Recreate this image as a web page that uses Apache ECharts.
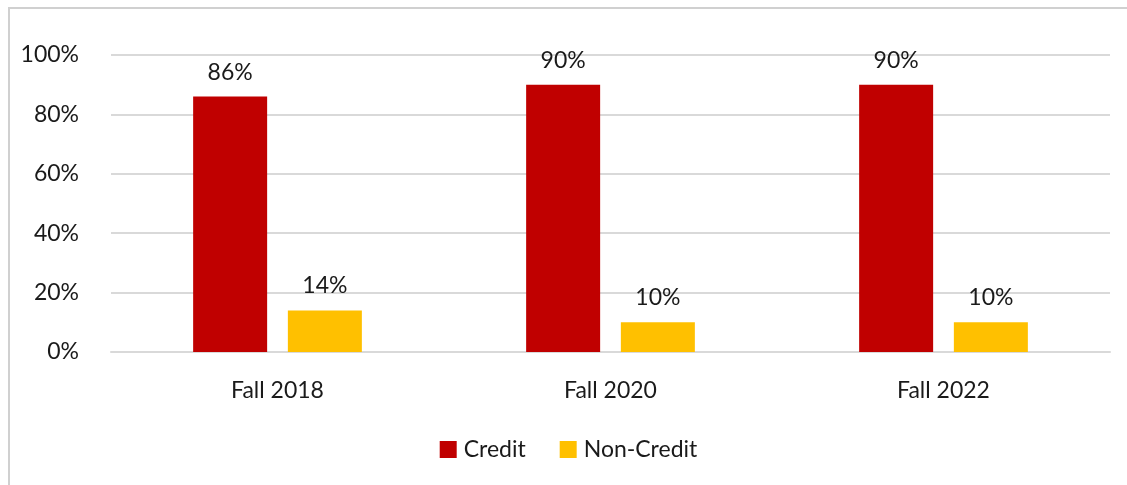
<!DOCTYPE html>
<html>
<head>
<meta charset="utf-8">
<script src="https://cdn.jsdelivr.net/npm/echarts@6/dist/echarts.min.js"></script>
<style>
  html, body { margin: 0; padding: 0; background: #fff; overflow: hidden; }
  #frame {
    position: absolute; left: 8px; top: 7px; width: 1130px; height: 490px;
    border-top: 2px solid #d0d0d0; border-left: 2px solid #d0d0d0;
  }
  #chart { width: 1117px; height: 478px; }
</style>
</head>
<body>
<div id="frame"><div id="chart"></div></div>
<script>
const categories = ['Fall 2018', 'Fall 2020', 'Fall 2022']
const creditValues = [86, 90, 90]
const nonCreditValues = [14, 10, 10]
const yTicks = [0, 20, 40, 60, 80, 100]

const font = 'Lato, "Noto Sans", sans-serif'
const chart = echarts.init(document.getElementById('chart'))

const labelStyle = {
  show: true,
  position: 'top',
  distance: 13,
  formatter: p => p.value + '%',
  color: '#1a1a1a',
  fontSize: 23,
  fontFamily: font
}

chart.setOption({
  animation: false,
  grid: { left: 101, right: 17, top: 46, bottom: 135 },
  legend: {
    top: 429,
    left: 'center',
    padding: 0,
    itemWidth: 17,
    itemHeight: 17,
    itemGap: 34,
    icon: 'rect',
    textStyle: { color: '#1a1a1a', fontSize: 23, lineHeight: 17, fontFamily: font, padding: [0, 0, 0, 2] },
    data: ['Credit', 'Non-Credit']
  },
  xAxis: {
    type: 'category',
    data: categories,
    axisLine: { lineStyle: { color: '#d9d9d9', width: 2 } },
    axisTick: { show: false },
    axisLabel: { color: '#1a1a1a', fontSize: 23, fontFamily: font, margin: 27 }
  },
  yAxis: {
    type: 'value',
    min: yTicks[0],
    max: yTicks[yTicks.length - 1],
    interval: 20,
    axisLine: { show: false },
    axisTick: { show: false },
    splitLine: { lineStyle: { color: '#d9d9d9', width: 2 } },
    axisLabel: { formatter: '{value}%', color: '#1a1a1a', fontSize: 23, fontFamily: font, margin: 32 }
  },
  series: [
    {
      name: 'Credit',
      type: 'bar',
      data: creditValues,
      barWidth: 74,
      barGap: '28%',
      itemStyle: { color: '#C00000' },
      label: labelStyle
    },
    {
      name: 'Non-Credit',
      type: 'bar',
      data: nonCreditValues,
      barWidth: 74,
      itemStyle: { color: '#FFC000' },
      label: labelStyle
    }
  ]
})
</script>
</body>
</html>
